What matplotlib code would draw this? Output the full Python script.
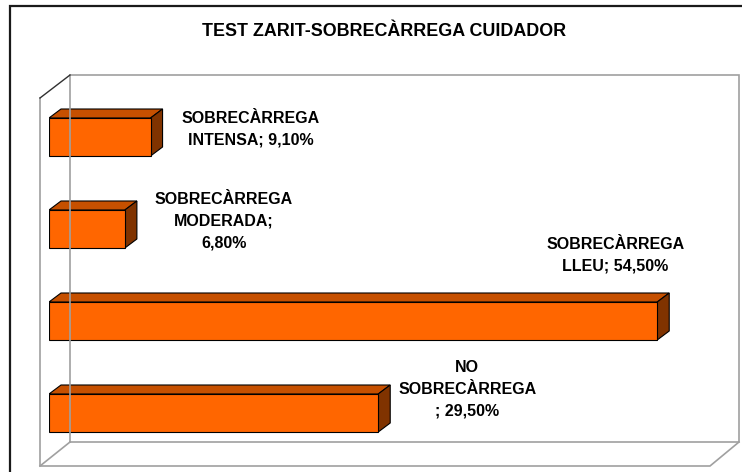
"""
Test Zarit - sobrecàrrega cuidador, barres horitzontals amb efecte 3D
"""

import matplotlib.pyplot as plt
from matplotlib.patches import Polygon, Rectangle
from matplotlib.lines import Line2D

# dades (de baix a dalt)
categories = ['NO\nSOBRECÀRREGA', 'SOBRECÀRREGA\nLLEU', 'SOBRECÀRREGA\nMODERADA', 'SOBRECÀRREGA\nINTENSA']
values = [29.5, 54.5, 6.8, 9.1]
value_labels = ['NO\nSOBRECÀRREGA\n; 29,50%', 'SOBRECÀRREGA\nLLEU; 54,50%',
                'SOBRECÀRREGA\nMODERADA;\n6,80%', 'SOBRECÀRREGA\nINTENSA; 9,10%']
# desplaçament de cada etiqueta respecte al final de la barra (píxels)
label_offsets = [(89, 24), (-42, 66), (99, 8), (100, 8)]

W, H = 742, 472
FRONT = '#FF6600'
TOP = '#C65000'
SIDE = '#803300'
WALL = '#A0A0A0'

plt.rcParams['font.family'] = ['Liberation Sans', 'DejaVu Sans']
plt.rcParams['font.weight'] = 'bold'

fig = plt.figure(figsize=(W / 100, H / 100), dpi=100)


def px(x, y):
    # coordenades de la imatge (origen a dalt a l'esquerra) -> fracció de figura
    return (x / W, 1 - y / H)


def fig_line(points, color, lw):
    xs, ys = zip(*[px(x, y) for x, y in points])
    fig.add_artist(Line2D(xs, ys, color=color, lw=lw, transform=fig.transFigure,
                          solid_joinstyle='miter'))


# marc exterior
x0, y0 = px(10, 6)
x1, y1 = px(760, 490)
fig.add_artist(Rectangle((x0, y1), x1 - x0, y0 - y1, fill=False, ec='#1a1a1a',
                         lw=1.6, transform=fig.transFigure))

# parets i terra
fig_line([(70, 442), (70, 75), (739, 75), (739, 442), (70, 442)], WALL, 1.2)
fig_line([(40, 98), (40, 466), (710, 466), (739, 442)], WALL, 1.2)
fig_line([(40, 466), (70, 442)], WALL, 1.2)
fig_line([(40, 98), (70, 75)], '#303030', 1.0)

fig.text(*px(384, 32), 'TEST ZARIT-SOBRECÀRREGA CUIDADOR', ha='center', va='center',
         fontsize=12.9, fontweight='bold')

# eixos: 0% a x=49 px, 11.16 px per punt percentual
ax = fig.add_axes([49 / W, (H - 459) / H, 60 * 11.16 / W, 368 / H])
ax.set_xlim(0, 60)
ax.set_ylim(-0.5, 3.5)
ax.axis('off')
ax.patch.set_alpha(0)

ypos = list(range(len(values)))
bh = 38 / 92
ax.barh(ypos, values, height=bh, color=FRONT, edgecolor='black', lw=0.8, zorder=3)

# profunditat en unitats de dades
ddx = 12 / 11.16
ddy = 9 / 92
for y, v in zip(ypos, values):
    top = Polygon([(0, y + bh / 2), (v, y + bh / 2), (v + ddx, y + bh / 2 + ddy),
                   (ddx, y + bh / 2 + ddy)], closed=True, fc=TOP, ec='black', lw=0.8, zorder=2)
    side = Polygon([(v, y - bh / 2), (v + ddx, y - bh / 2 + ddy), (v + ddx, y + bh / 2 + ddy),
                    (v, y + bh / 2)], closed=True, fc=SIDE, ec='black', lw=0.8, zorder=2)
    ax.add_patch(top)
    ax.add_patch(side)

for y, v, lab, (dx, dy) in zip(ypos, values, value_labels, label_offsets):
    ax.annotate(lab, (v, y), xytext=(dx, dy), textcoords='offset pixels',
                ha='center', va='center', multialignment='center',
                fontsize=11.5, fontweight='bold', linespacing=1.55, zorder=5)

fig.savefig('out.png', dpi=100)
